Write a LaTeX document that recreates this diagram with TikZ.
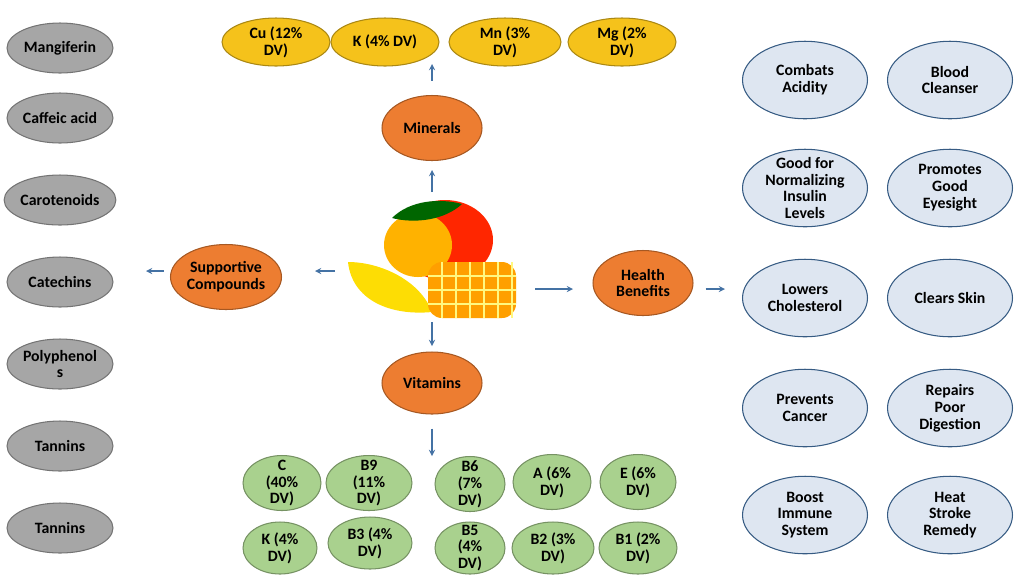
\documentclass[tikz,border=0pt]{standalone}
\usepackage{fontspec}
\setmainfont{Carlito}
\usetikzlibrary{shapes.geometric}
\definecolor{grayfill}{HTML}{A6A6A6}
\definecolor{goldfill}{HTML}{F5C21B}
\definecolor{orangefill}{HTML}{ED7D31}
\definecolor{greenfill}{HTML}{A9D18E}
\definecolor{bluefill}{HTML}{DEE6F1}
\definecolor{arrowblue}{HTML}{4472A4}
\begin{document}
\begin{tikzpicture}[x=0.02cm,y=-0.02cm,
   oval/.style={ellipse,draw=#1!70!black,line width=0.6pt,align=center,inner sep=0pt,
      font=\fontsize{9}{9.6}\selectfont\bfseries},
   cmpd/.style={oval=grayfill,fill=grayfill,minimum width=2.12cm,minimum height=1cm},
   mnrl/.style={oval=goldfill,fill=goldfill,minimum width=2.16cm,minimum height=0.96cm},
   hub/.style={oval=orangefill,fill=orangefill,minimum width=2cm,minimum height=1.3cm},
   vitm/.style={oval=greenfill,fill=greenfill,minimum height=1.1cm,inner sep=-5pt},
   bnft/.style={oval=bluefill,draw=arrowblue!80!black,fill=bluefill,minimum width=2.5cm,minimum height=1.55cm,inner sep=-5pt},
   link/.style={->,>=stealth,draw=arrowblue,line width=0.6pt}]
   \useasboundingbox (0,0) rectangle (1024,583);
   % supportive compounds
   \node[cmpd] (mangiferin) at (60,48) {Mangiferin};
   \node[cmpd] (caffeic) at (60,118) {Caffeic acid};
   \node[cmpd] (carotenoids) at (60,200) {Carotenoids};
   \node[cmpd] (catechins) at (60,282) {Catechins};
   \node[cmpd] (polyphenols) at (60,364) {Polyphenol\\s};
   \node[cmpd] (tannins) at (60,446) {Tannins};
   \node[cmpd] (tanninsb) at (60,528) {Tannins};
   % minerals
   \node[mnrl] (cu) at (276,42) {Cu (12\%\\DV)};
   \node[mnrl] (k) at (385,42) {K (4\% DV)};
   \node[mnrl,minimum width=2.24cm] (mn) at (505,42) {Mn (3\%\\DV)};
   \node[mnrl] (mg) at (622,42) {Mg (2\%\\DV)};
   % hubs
   \node[hub] (minerals) at (432,128) {Minerals};
   \node[hub,minimum width=2.08cm] (supportive) at (226,277) {Supportive\\Compounds};
   \node[hub] (health) at (643,283) {Health\\Benefits};
   \node[hub,minimum height=1.24cm] (vitamins) at (432,383) {Vitamins};
   % mango
   \fill[red!70!orange] (445,240) ellipse (48 and 40);
   \fill[orange!60!yellow] (418,245) ellipse (34 and 32);
   \fill[green!40!black] (392,218) .. controls (410,200) and (440,198) .. (462,204) .. controls (445,220) and (415,224) .. (392,218);
   \fill[yellow!80!orange] (348,262) .. controls (380,262) and (420,280) .. (432,312) .. controls (390,316) and (352,300) .. (348,262);
   \fill[orange!75!yellow,rounded corners=8pt] (428,262) rectangle (516,318);
   \foreach \i in {442,456,...,512} \draw[yellow!50!white,line width=0.8pt] (\i,262) -- (\i,318);
   \foreach \j in {276,290,304} \draw[yellow!50!white,line width=0.8pt] (428,\j) -- (516,\j);
   \coordinate (mangoN) at (432,192);
   \coordinate (mangoW) at (335,271);
   \coordinate (mangoE) at (535,289);
   \coordinate (mangoS) at (432,322);
   % vitamins
   \node[vitm,minimum width=1.56cm] (c) at (282,483) {C\\(40\%\\DV)};
   \node[vitm,minimum width=1.72cm] (b9) at (369,483) {B9\\(11\%\\DV)};
   \node[vitm,minimum width=1.4cm] (b6) at (470,484) {B6\\(7\%\\DV)};
   \node[vitm,minimum width=1.56cm] (a) at (552,482) {A (6\%\\DV)};
   \node[vitm,minimum width=1.52cm] (e) at (638,482) {E (6\%\\DV)};
   \node[vitm,minimum width=1.48cm,minimum height=1.04cm] (kv) at (280,548) {K (4\%\\DV)};
   \node[vitm,minimum width=1.68cm,minimum height=1.04cm] (b3) at (370,543) {B3 (4\%\\DV)};
   \node[vitm,minimum width=1.4cm,minimum height=1.04cm] (b5) at (470,548) {B5\\(4\%\\DV)};
   \node[vitm,minimum width=1.64cm,minimum height=1.04cm] (b2) at (553,548) {B2 (3\%\\DV)};
   \node[vitm,minimum width=1.56cm,minimum height=1.04cm] (b1) at (638,548) {B1 (2\%\\DV)};
   % benefits
   \node[bnft] (acidity) at (805,80) {Combats\\Acidity};
   \node[bnft] (blood) at (950,80) {Blood\\Cleanser};
   \node[bnft] (insulin) at (805,188) {Good for\\Normalizing\\Insulin\\Levels};
   \node[bnft] (eyesight) at (950,188) {Promotes\\Good\\Eyesight};
   \node[bnft] (cholesterol) at (805,298) {Lowers\\Cholesterol};
   \node[bnft] (skin) at (950,298) {Clears Skin};
   \node[bnft] (cancer) at (805,408) {Prevents\\Cancer};
   \node[bnft] (digestion) at (950,408) {Repairs\\Poor\\Digestion};
   \node[bnft] (immune) at (805,515) {Boost\\Immune\\System};
   \node[bnft] (stroke) at (950,515) {Heat\\Stroke\\Remedy};
   % arrows
   \coordinate (mineralsTip) at (432,64);
   \coordinate (supportiveTip) at (146,271);
   \coordinate (healthTip) at (725,289);
   \coordinate (vitaminsTip) at (432,456);
   \draw[link] (minerals.north) ++(0,-14) -- (mineralsTip);
   \draw[link] (mangoN) -- ++(0,-22);
   \draw[link] (mangoW) -- ++(-20,0);
   \draw[link] (supportive.west) ++(-6,-6) -- (supportiveTip);
   \draw[link] (mangoE) -- ++(38,0);
   \draw[link] (health.east) ++(12,6) -- (healthTip);
   \draw[link] (mangoS) -- ++(0,24);
   \draw[link] (vitamins.south) ++(0,14) -- (vitaminsTip);
\end{tikzpicture}
\end{document}
